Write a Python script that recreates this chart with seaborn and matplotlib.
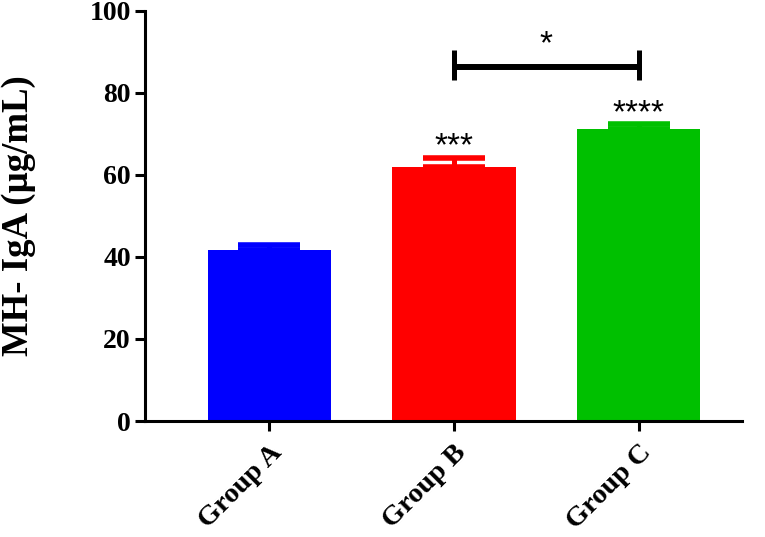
import pandas as pd
import numpy as np
import seaborn as sns
import matplotlib.pyplot as plt

groups = ['Group A', 'Group B', 'Group C']
means = [41.8, 62.0, 71.1]
sems = [1.0, 2.1, 1.2]
colors = ['#0000FF', '#FF0000', '#00C000']
stars = ['', '***', '****']
yticks = [0, 20, 40, 60, 80, 100]

df = pd.DataFrame({'Group': groups, 'IgA': means})

sns.set_style('ticks')
plt.rcParams['font.family'] = ['Liberation Serif', 'DejaVu Serif']
plt.rcParams['font.weight'] = 'bold'
plt.rcParams['text.color'] = 'black'
plt.rcParams['axes.labelcolor'] = 'black'
plt.rcParams['xtick.color'] = 'black'
plt.rcParams['ytick.color'] = 'black'
plt.rcParams['axes.edgecolor'] = 'black'

fig = plt.figure(figsize=(7.65, 5.37), dpi=100)
ax = fig.add_axes([0.190, 0.216, 0.780, 0.764])

sns.barplot(data=df, x='Group', y='IgA', hue='Group', palette=colors,
            saturation=1, width=0.667, legend=False, ax=ax, linewidth=0,
            zorder=2)

# one-sided error bars in the bar colour
for i, (m, e, c) in enumerate(zip(means, sems, colors)):
    ax.errorbar(i, m, yerr=[[0], [e]], color=c, capsize=22, capthick=4,
                elinewidth=3.6, zorder=3)
    if stars[i]:
        ax.text(i, m + e + 2.7, stars[i], ha='center', va='center',
                fontsize=24, family='Liberation Sans', fontweight='normal')

# B vs C comparison
ax.plot([1, 2], [86.4, 86.4], color='black', lw=4.3, solid_capstyle='butt')
ax.vlines([1, 2], 83, 90.4, color='black', lw=3.6)
ax.text(1.5, 91.6, '*', ha='center', va='center', fontsize=24,
        family='Liberation Sans', fontweight='normal')

ax.set_ylim(0, 100)
ax.set_yticks(yticks)
ax.set_xlim(-0.672, 2.56)
ax.set_xlabel('')
ax.set_ylabel('MH- IgA (µg/mL)', fontsize=26.5, fontweight='bold')
ax.yaxis.set_label_coords(-0.183, 0.5)

for s in ['top', 'right']:
    ax.spines[s].set_visible(False)
for s in ['left', 'bottom']:
    ax.spines[s].set_linewidth(2.2)
ax.tick_params(axis='both', width=2.2, length=7, labelsize=20)
ax.tick_params(axis='x', labelsize=20.5, pad=7)
plt.setp(ax.get_xticklabels(), rotation=45, ha='right', rotation_mode='anchor',
         fontweight='bold')
plt.setp(ax.get_yticklabels(), fontweight='bold')

fig.savefig('out.png', dpi=100)
